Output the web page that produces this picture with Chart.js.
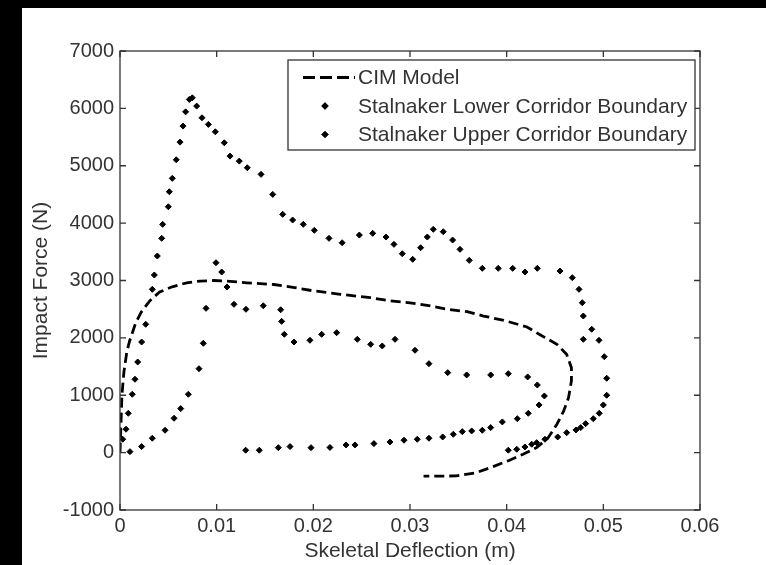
<!DOCTYPE html>
<html>
<head>
<meta charset="utf-8">
<script src="https://cdn.jsdelivr.net/npm/chart.js@4/dist/chart.umd.min.js"></script>
<style>
html,body{margin:0;padding:0;background:#000;width:766px;height:565px;overflow:hidden;}
#wrap{position:absolute;left:22px;top:8px;width:744px;height:557px;background:#fff;}
</style>
</head>
<body>
<div id="wrap"><canvas id="chart" width="744" height="557"></canvas></div>
<script>
var xTicks = [0, 0.01, 0.02, 0.03, 0.04, 0.05, 0.06]
var xTickLabels = ['0', '0.01', '0.02', '0.03', '0.04', '0.05', '0.06']
var yTicks = [-1000, 0, 1000, 2000, 3000, 4000, 5000, 6000, 7000]
var yTickLabels = ['-1000', '0', '1000', '2000', '3000', '4000', '5000', '6000', '7000']

var cimX = [0, 0.0001, 0.0002, 0.0004, 0.0007, 0.001, 0.0016, 0.0022, 0.0031, 0.0041, 0.0054, 0.0069,
  0.0083, 0.0097, 0.011, 0.0131, 0.0159, 0.0179, 0.02, 0.0228, 0.0259, 0.028, 0.03, 0.0321, 0.0338,
  0.0359, 0.0376, 0.0397, 0.0421, 0.0435, 0.0452, 0.0462, 0.0467, 0.0467, 0.0464, 0.0459, 0.0452,
  0.0443, 0.0431, 0.0417, 0.0403, 0.0386, 0.0369, 0.0348, 0.0331, 0.0314]
var cimY = [0, 500, 1000, 1400, 1750, 1950, 2250, 2450, 2650, 2800, 2890, 2960,
  2990, 3000, 2990, 2960, 2930, 2880, 2820, 2760, 2700, 2645, 2610, 2556, 2498,
  2456, 2381, 2306, 2190, 2050, 1888, 1714, 1481, 1249, 958, 726, 495,
  261, 87, -28, -132, -244, -348, -406, -410, -410]

var lowerX = [0.00103, 0.00224, 0.00334, 0.00466, 0.00559, 0.00628, 0.00707, 0.00817, 0.00862, 0.0089,
  0.00993, 0.01052, 0.01107, 0.01179, 0.01303, 0.01482, 0.01662, 0.01672, 0.017, 0.018, 0.01965,
  0.02086, 0.02241, 0.02455, 0.02593, 0.02713, 0.02845, 0.03052, 0.03196, 0.0339, 0.03586, 0.03835,
  0.04017, 0.04217, 0.04317, 0.0439, 0.04335, 0.04224, 0.0411, 0.03955, 0.03835, 0.03748, 0.03638,
  0.03541, 0.03448, 0.03338, 0.03196, 0.03075, 0.02938, 0.02793, 0.02627, 0.02431, 0.02338, 0.02172,
  0.01976, 0.01759, 0.01638, 0.01441, 0.013]
var lowerY = [17, 105, 251, 390, 599, 767, 1017, 1463, 1906, 2515,
  3310, 3148, 2887, 2585, 2498, 2560, 2490, 2288, 2062, 1928, 1958,
  2062, 2090, 1975, 1888, 1859, 1975, 1784, 1550, 1394, 1354, 1354,
  1376, 1319, 1179, 988, 831, 686, 592, 535, 436, 390, 378,
  366, 320, 273, 251, 233, 216, 186, 157, 134, 134, 90,
  87, 105, 87, 42, 42]

var upperX = [0.00028, 0.00062, 0.00086, 0.00127, 0.00155, 0.00183, 0.00224, 0.00266, 0.00334, 0.00355,
  0.00386, 0.00431, 0.00441, 0.005, 0.0051, 0.00541, 0.00582, 0.00621, 0.00652, 0.00679, 0.00717,
  0.00748, 0.00793, 0.00848, 0.00914, 0.00986, 0.01079, 0.01138, 0.01234, 0.01317, 0.01459, 0.0158,
  0.01683, 0.01786, 0.01896, 0.0201, 0.02162, 0.02298, 0.02476, 0.02614, 0.02752, 0.02834, 0.0292,
  0.03028, 0.0311, 0.03179, 0.03241, 0.03344, 0.03441, 0.03517, 0.03613, 0.03748, 0.03913, 0.04062,
  0.04189, 0.04317, 0.04552, 0.04679, 0.04748, 0.04782, 0.04793, 0.0488, 0.04793, 0.04955, 0.0501,
  0.05035, 0.05035, 0.05, 0.04958, 0.04896, 0.04817, 0.04766, 0.04717, 0.04621, 0.04528, 0.04396,
  0.0431, 0.04259, 0.04189, 0.04104, 0.04017]
var upperY = [233, 408, 686, 1017, 1279, 1580, 1928, 2237, 2846, 3096,
  3427, 3735, 3979, 4285, 4547, 4780, 5104, 5412, 5691, 5940, 6156,
  6184, 6040, 5836, 5721, 5592, 5400, 5168, 5081, 4965, 4850, 4501,
  4153, 4054, 3979, 3874, 3735, 3658, 3792, 3822, 3758, 3630, 3467,
  3369, 3571, 3758, 3892, 3850, 3705, 3543, 3351, 3212, 3212, 3212,
  3148, 3212, 3165, 3049, 2846, 2613, 2381, 2150, 1975, 1958, 1672,
  1296, 1000, 831, 686, 592, 505, 436, 395, 348, 273, 233,
  174, 146, 99, 59, 42]

var toPoints = function(xs, ys){
  return xs.map(function(x, i){ return {x: x, y: ys[i]} })
}

var textColor = '#333'
var axisColor = '#333'
var fontFamily = '"Liberation Sans", Arial, Helvetica, sans-serif'

// MATLAB style box, inward ticks on all four sides, and the legend
var matlabBox = {
  id: 'matlabBox',
  afterDraw: function(chart){
    var ctx = chart.ctx
    var a = chart.chartArea
    var xs = chart.scales.x
    var ys = chart.scales.y
    var tl = 6
    ctx.save()
    ctx.strokeStyle = axisColor
    ctx.lineWidth = 1.3
    ctx.strokeRect(a.left, a.top, a.right - a.left, a.bottom - a.top)
    ctx.beginPath()
    xTicks.forEach(function(v){
      var px = xs.getPixelForValue(v)
      ctx.moveTo(px, a.bottom); ctx.lineTo(px, a.bottom - tl)
      ctx.moveTo(px, a.top); ctx.lineTo(px, a.top + tl)
    })
    yTicks.forEach(function(v){
      var py = ys.getPixelForValue(v)
      ctx.moveTo(a.left, py); ctx.lineTo(a.left + tl, py)
      ctx.moveTo(a.right, py); ctx.lineTo(a.right - tl, py)
    })
    ctx.stroke()

    // legend
    var bx = 266, by = 52, bw = 407, bh = 90
    ctx.fillStyle = '#fff'
    ctx.fillRect(bx, by, bw, bh)
    ctx.strokeRect(bx, by, bw, bh)
    var rows = [69.5, 98, 126.5]
    ctx.font = '21px ' + fontFamily
    ctx.textBaseline = 'middle'
    chart.data.datasets.forEach(function(ds, i){
      var ry = rows[i]
      if(ds.showLine){
        ctx.save()
        ctx.strokeStyle = ds.borderColor
        ctx.lineWidth = ds.borderWidth
        ctx.setLineDash([12, 5])
        ctx.beginPath()
        ctx.moveTo(281, ry); ctx.lineTo(333, ry)
        ctx.stroke()
        ctx.restore()
      }
      else{
        Chart.helpers.drawPoint(ctx, {
          pointStyle: 'rectRot', radius: ds.pointRadius, borderWidth: ds.pointBorderWidth
        }, 303, ry)
        ctx.fillStyle = ds.pointBackgroundColor
        ctx.strokeStyle = ds.pointBorderColor
        ctx.lineWidth = ds.pointBorderWidth
        ctx.fill()
        ctx.stroke()
      }
      ctx.fillStyle = textColor
      ctx.textAlign = 'left'
      ctx.fillText(ds.label, 336, ry + 1)
    })
    ctx.restore()
  }
}

var markerStyle = {
  showLine: false,
  pointStyle: 'rectRot',
  pointRadius: 3,
  pointHoverRadius: 3,
  pointBorderWidth: 1,
  pointBackgroundColor: '#000',
  pointBorderColor: '#000'
}

new Chart(document.getElementById('chart'), {
  type: 'scatter',
  data: {
    datasets: [
      {
        label: 'CIM Model',
        data: toPoints(cimX, cimY),
        showLine: true,
        borderColor: '#000',
        borderWidth: 2.8,
        borderDash: [10, 5],
        pointRadius: 0,
        tension: 0
      },
      Object.assign({label: 'Stalnaker Lower Corridor Boundary', data: toPoints(lowerX, lowerY)}, markerStyle),
      Object.assign({label: 'Stalnaker Upper Corridor Boundary', data: toPoints(upperX, upperY)}, markerStyle)
    ]
  },
  options: {
    responsive: false,
    animation: false,
    layout: {padding: {left: 0, top: 43, right: 66, bottom: 0}},
    plugins: {legend: {display: false}, tooltip: {enabled: false}},
    scales: {
      x: {
        type: 'linear',
        min: 0,
        max: 0.06,
        afterBuildTicks: function(scale){
          scale.ticks = xTicks.map(function(v){ return {value: v} })
        },
        afterFit: function(scale){ scale.height = 55 },
        grid: {display: false, drawTicks: false},
        border: {display: false},
        ticks: {
          padding: 4,
          color: textColor,
          font: {family: fontFamily, size: 20},
          maxRotation: 0,
          autoSkip: false,
          callback: function(v, i){ return xTickLabels[i] }
        },
        title: {
          display: true,
          text: 'Skeletal Deflection (m)',
          color: textColor,
          font: {family: fontFamily, size: 21},
          padding: {top: 0, bottom: 1}
        }
      },
      y: {
        type: 'linear',
        min: -1000,
        max: 7000,
        afterBuildTicks: function(scale){
          scale.ticks = yTicks.map(function(v){ return {value: v} })
        },
        afterFit: function(scale){ scale.width = 98 },
        grid: {display: false, drawTicks: false},
        border: {display: false},
        ticks: {
          padding: 6,
          color: textColor,
          font: {family: fontFamily, size: 20},
          autoSkip: false,
          callback: function(v, i){ return yTickLabels[i] }
        },
        title: {
          display: true,
          text: 'Impact Force (N)',
          color: textColor,
          font: {family: fontFamily, size: 21},
          padding: {top: 7, bottom: 0}
        }
      }
    }
  },
  plugins: [matlabBox]
})
</script>
</body>
</html>
